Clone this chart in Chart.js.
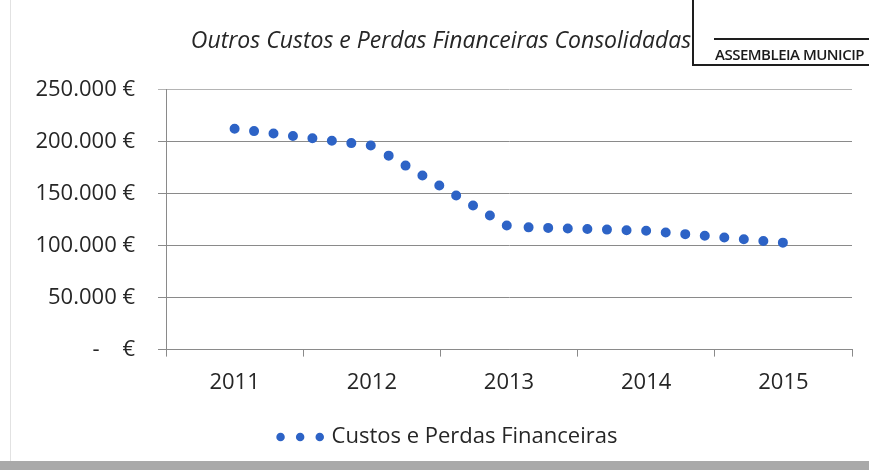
<!DOCTYPE html>
<html>
<head>
<meta charset="utf-8">
<script src="https://cdn.jsdelivr.net/npm/chart.js@4.4.1/dist/chart.umd.min.js"></script>
<style>
  html, body { margin: 0; padding: 0; background: #fff; }
  #wrap { position: relative; width: 869px; height: 470px; overflow: hidden; background: #fff; }
  #chart { position: absolute; left: 0; top: 0; }
  /* carimbo no canto superior direito */
  #stamp { position: absolute; left: 692px; top: 0; width: 177px; height: 64px;
           border-left: 2px solid #1e1e1e; border-bottom: 2px solid #1e1e1e; }
  #stamp .line { position: absolute; left: 20px; right: 0; top: 38px; border-top: 2px solid #1e1e1e; }
  #stamp .txt { position: absolute; left: 21px; top: 44px; white-space: nowrap;
                font: 600 15px "Open Sans", sans-serif; color: #1a1a1a; letter-spacing: -0.5px; }
  #frame { position: absolute; left: 10px; top: 0; width: 1px; height: 461px; background: #e2e2e2; }
  #bottomBar { position: absolute; left: 0; top: 461px; width: 869px; height: 9px; background: #a9a9a9; }
</style>
</head>
<body>
<div id="wrap">
  <canvas id="chart" width="869" height="470"></canvas>
  <div id="frame"></div>
  <div id="stamp"><div class="line"></div><div class="txt">ASSEMBLEIA MUNICIP</div></div>
  <div id="bottomBar"></div>
</div>
<script>
// Dados do gráfico
const years = ['2011', '2012', '2013', '2014', '2015'];
const custosFinanceiros = [212400, 196100, 118100, 114300, 102800];
const yTickValues = [0, 50000, 100000, 150000, 200000, 250000];
const yTickLabels = ['-    €', '50.000 €', '100.000 €', '150.000 €', '200.000 €', '250.000 €'];

const seriesName = 'Custos e Perdas Financeiras';
const chartTitle = 'Outros Custos e Perdas Financeiras Consolidadas';

Chart.defaults.font.family = '"Open Sans", sans-serif';
Chart.defaults.font.size = 22;
Chart.defaults.color = '#262626';

const blue = '#2d63c6';
const dotGap = 19.6;

// desloca ligeiramente a legenda para a direita (como no original)
const legendShift = {
  id: 'legendShift',
  afterLayout(chart) {
    if (chart.legend) { chart.legend.left += 8; chart.legend.right += 8; }
  }
};

new Chart(document.getElementById('chart'), {
  type: 'line',
  data: {
    labels: years,
    datasets: [{
      label: seriesName,
      data: custosFinanceiros,
      borderColor: blue,
      backgroundColor: blue,
      borderWidth: 10,
      borderDash: [0, dotGap],
      borderCapStyle: 'round',
      pointRadius: 0,
      tension: 0,
      fill: false,
      // o tracejado recomeça em cada ponto (como no Excel)
      segment: { borderDashOffset: ctx => ctx.p0DataIndex * 0.001 }
    }]
  },
  options: {
    responsive: false,
    animation: false,
    devicePixelRatio: 1,
    layout: { padding: { left: 30, right: 17, top: 0, bottom: 12 } },
    plugins: {
      title: {
        display: true,
        text: chartTitle,
        color: '#262626',
        font: { size: 23, style: 'italic', weight: 'normal' },
        padding: { top: 28, bottom: 34 }
      },
      legend: {
        position: 'bottom',
        labels: {
          usePointStyle: true,
          pointStyle: 'line',
          pointStyleWidth: 40,
          padding: 18,
          color: '#262626',
          font: { size: 22 },
          generateLabels(chart) {
            const items = Chart.defaults.plugins.legend.labels.generateLabels(chart);
            items.forEach(it => { it.lineWidth = 8.5; it.lineDash = [0, dotGap]; it.lineCap = 'round'; });
            return items;
          }
        }
      },
      tooltip: { enabled: false }
    },
    scales: {
      x: {
        offset: true,
        grid: { offset: true, drawOnChartArea: false, drawTicks: true, tickLength: 7, color: '#8a8a8a' },
        border: { display: true, color: '#8a8a8a', width: 1 },
        ticks: { padding: 12.5, color: '#262626', maxRotation: 0 }
      },
      y: {
        min: 0,
        max: 250000,
        afterFit(scale) { scale.width = 136; },
        afterBuildTicks(scale) { scale.ticks = yTickValues.map(v => ({ value: v })); },
        grid: {
          tickLength: 8,
          color: ctx => (ctx.tick && ctx.tick.value === 250000) ? '#b4b4b4' : '#8a8a8a'
        },
        border: { display: true, color: '#8a8a8a', width: 1 },
        ticks: {
          padding: 23,
          color: '#262626',
          callback: (value) => yTickLabels[yTickValues.indexOf(value)]
        }
      }
    }
  },
  plugins: [legendShift]
});
</script>
</body>
</html>
